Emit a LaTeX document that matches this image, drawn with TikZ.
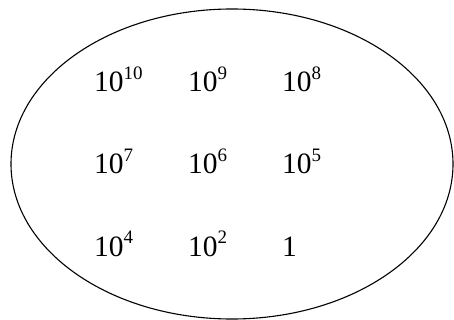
\documentclass[tikz,border=0pt]{standalone}
\usepackage{fontspec}
\setmainfont{Liberation Serif}
\newcommand{\pw}[2]{#1\raisebox{0.43em}{\fontsize{19}{19}\selectfont #2}}
\begin{document}
\begin{tikzpicture}[x=1pt,y=-1pt,
  num/.style={anchor=base west,inner sep=0pt,font=\fontsize{29.5}{34}\selectfont}]
\useasboundingbox (0,0) rectangle (454,320);
\draw[line width=1.1pt] (232,164) ellipse [x radius=221, y radius=155];
\node[num] (a) at (94,92) {\pw{10}{10}};
\node[num] (b) at (188,92) {\pw{10}{9}};
\node[num] (c) at (282,92) {\pw{10}{8}};
\node[num] (d) at (94,174) {\pw{10}{7}};
\node[num] (e) at (188,174) {\pw{10}{6}};
\node[num] (f) at (282,174) {\pw{10}{5}};
\node[num] (g) at (94,256) {\pw{10}{4}};
\node[num] (h) at (188,256) {\pw{10}{2}};
\node[num] (i) at (282,256) {1};
\end{tikzpicture}
\end{document}
